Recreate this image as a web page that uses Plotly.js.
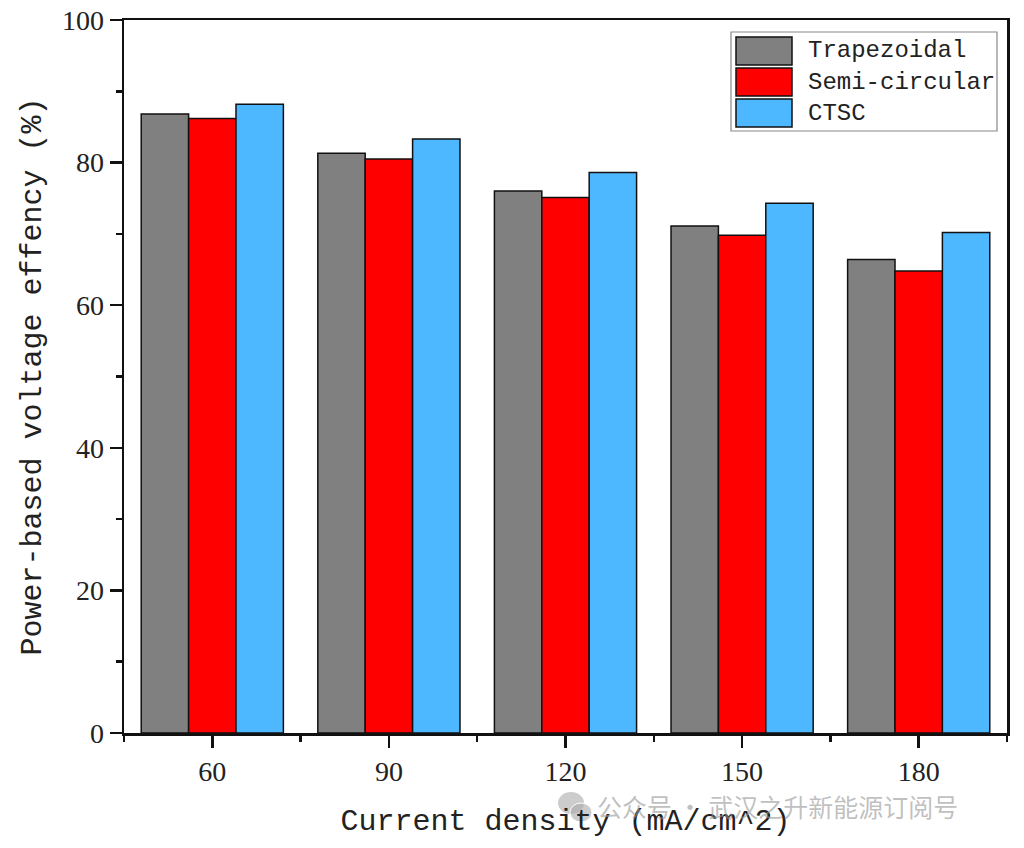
<!DOCTYPE html>
<html>
<head>
<meta charset="utf-8">
<script src="https://cdn.plot.ly/plotly-3.0.1.min.js"></script>
<style>html,body{margin:0;padding:0;background:#fff;}#chart{width:1024px;height:848px;}</style>
</head>
<body>
<div id="chart"></div>
<script>
// ---- data ----
const currentDensity = [60, 90, 120, 150, 180];
const seriesNames = ["Trapezoidal", "Semi-circular", "CTSC"];
const trapezoidal = [86.8, 81.3, 76.0, 71.1, 66.4];
const semiCircular = [86.2, 80.5, 75.1, 69.8, 64.8];
const ctsc = [88.2, 83.3, 78.6, 74.3, 70.2];
const seriesColors = ["#808080", "#ff0000", "#4db8ff"];
const xTitle = "Current density (mA/cm^2)";
const yTitle = "Power-based voltage effency (%)";
const watermark = "公众号 · 武汉之升新能源订阅号";

// ---- layout helpers (pixel -> paper) ----
const W = 1024, H = 848;
const M = {l: 124, r: 17, t: 20, b: 115};
const PW = W - M.l - M.r, PH = H - M.t - M.b;
const px = x => (x - M.l) / PW;
const py = y => (H - M.b - y) / PH;

const values = [trapezoidal, semiCircular, ctsc];
const traces = values.map((v, i) => ({
  type: "bar",
  name: seriesNames[i],
  x: currentDensity,
  y: v,
  marker: {color: seriesColors[i], line: {color: "#111", width: 1.5}},
  showlegend: false,
  hoverinfo: "x+y+name"
}));

const monoFont = "Liberation Mono, DejaVu Sans Mono, monospace";
const serifFont = "Liberation Serif, DejaVu Serif, serif";

// custom legend
const shapes = [];
const annotations = [];
shapes.push({type: "rect", xref: "paper", yref: "paper",
  x0: px(731), x1: px(997), y0: py(131), y1: py(32),
  line: {color: "#888", width: 1.2}, fillcolor: "rgba(255,255,255,0)"});
const rowTops = [37, 68, 99];
seriesNames.forEach((n, i) => {
  shapes.push({type: "rect", xref: "paper", yref: "paper",
    x0: px(736), x1: px(792), y0: py(rowTops[i] + 28), y1: py(rowTops[i]),
    fillcolor: seriesColors[i], line: {color: "#111", width: 1.5}});
  annotations.push({xref: "paper", yref: "paper", x: px(806), y: py(rowTops[i] + 14),
    xanchor: "left", yanchor: "middle", showarrow: false, text: n,
    font: {family: monoFont, size: 24, color: "#222"}});
});
// watermark (WeChat-style icon + text)
shapes.push({type: "circle", xref: "paper", yref: "paper",
  x0: px(558), x1: px(584), y0: py(814), y1: py(792),
  fillcolor: "rgba(170,170,170,0.6)", line: {width: 0}});
shapes.push({type: "circle", xref: "paper", yref: "paper",
  x0: px(570), x1: px(592), y0: py(822), y1: py(803),
  fillcolor: "rgba(170,170,170,0.6)", line: {color: "#fff", width: 1}});
annotations.push({xref: "paper", yref: "paper", x: px(595), y: py(806),
  xanchor: "left", yanchor: "middle", showarrow: false, text: watermark,
  font: {family: "Noto Sans CJK SC", size: 25, color: "rgba(150,150,150,0.6)"}});

const layout = {
  width: W, height: H,
  margin: M,
  paper_bgcolor: "#fff", plot_bgcolor: "#fff",
  barmode: "group",
  bargap: 0.195,
  bargroupgap: 0,
  showlegend: false,
  font: {family: serifFont, color: "#222"},
  xaxis: {
    range: [45, 195],
    tick0: 60, dtick: 30,
    ticks: "outside", ticklen: 12, tickwidth: 2.5, tickcolor: "#111",
    minor: {tick0: 45, dtick: 30, ticks: "outside", ticklen: 6, tickwidth: 2.5, tickcolor: "#111"},
    showline: true, linewidth: 2.5, linecolor: "#111", mirror: true,
    showgrid: false, zeroline: false,
    tickfont: {family: serifFont, size: 28, color: "#222"},
    title: {text: xTitle, font: {family: monoFont, size: 30, color: "#222"}, standoff: 23}
  },
  yaxis: {
    range: [0, 100],
    tick0: 0, dtick: 20,
    ticks: "outside", ticklen: 12, tickwidth: 2.5, tickcolor: "#111",
    minor: {dtick: 10, ticks: "outside", ticklen: 6, tickwidth: 2.5, tickcolor: "#111"},
    showline: true, linewidth: 2.5, linecolor: "#111", mirror: true,
    showgrid: false, zeroline: false,
    tickfont: {family: serifFont, size: 28, color: "#222"},
    title: {text: yTitle, font: {family: monoFont, size: 30, color: "#222"}, standoff: 12}
  },
  shapes: shapes,
  annotations: annotations
};

Plotly.newPlot("chart", traces, layout, {staticPlot: true, displayModeBar: false});
</script>
</body>
</html>
